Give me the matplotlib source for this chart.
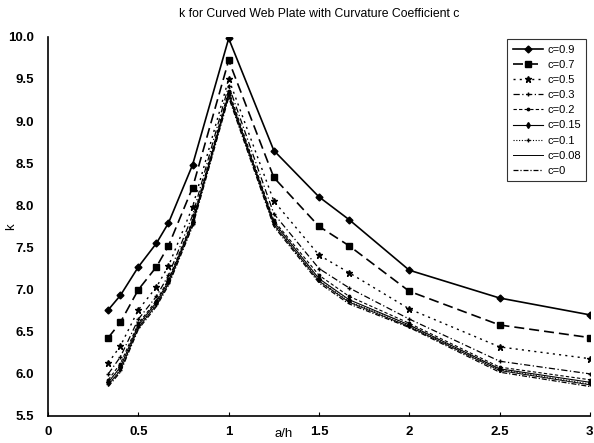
import matplotlib
matplotlib.use("Agg")
import matplotlib.pyplot as plt

plt.rcParams['font.family'] = ['Liberation Sans', 'DejaVu Sans']

a_h = [1/3, 0.4, 0.5, 0.6, 2/3, 0.8, 1.0, 1.25, 1.5, 5/3, 2.0, 2.5, 3.0]

labels = ["c=0.9", "c=0.7", "c=0.5", "c=0.3", "c=0.2", "c=0.15", "c=0.1", "c=0.08", "c=0"]

k_09 = [6.76, 6.93, 7.27, 7.55, 7.79, 8.48, 9.98, 8.65, 8.10, 7.83, 7.23, 6.90, 6.70]
k_07 = [6.43, 6.61, 7.00, 7.27, 7.52, 8.21, 9.72, 8.33, 7.75, 7.52, 6.98, 6.58, 6.43]
k_05 = [6.13, 6.33, 6.76, 7.03, 7.28, 7.98, 9.50, 8.05, 7.41, 7.20, 6.77, 6.32, 6.18]
k_03 = [6.00, 6.20, 6.65, 6.92, 7.17, 7.88, 9.42, 7.90, 7.25, 7.02, 6.65, 6.15, 6.00]
k_02 = [5.93, 6.12, 6.60, 6.87, 7.12, 7.82, 9.36, 7.82, 7.17, 6.92, 6.60, 6.08, 5.93]
k_015 = [5.90, 6.08, 6.58, 6.85, 7.10, 7.80, 9.33, 7.80, 7.13, 6.88, 6.58, 6.06, 5.90]
k_01 = [5.88, 6.05, 6.56, 6.83, 7.08, 7.78, 9.31, 7.78, 7.11, 6.86, 6.57, 6.05, 5.88]
k_008 = [5.87, 6.04, 6.55, 6.82, 7.07, 7.77, 9.30, 7.77, 7.10, 6.85, 6.56, 6.04, 5.87]
k_0 = [5.85, 6.02, 6.53, 6.80, 7.05, 7.75, 9.28, 7.75, 7.08, 6.83, 6.55, 6.02, 5.85]

series = [k_09, k_07, k_05, k_03, k_02, k_015, k_01, k_008, k_0]

styles = [
    dict(ls='-', lw=1.2, marker='D', ms=3.5),
    dict(ls=(0, (6, 3)), lw=1.2, marker='s', ms=4.5),
    dict(ls=(0, (1.5, 3)), lw=1.0, marker='*', ms=4.5),
    dict(ls=(0, (5, 2, 1, 2)), lw=0.9, marker='+', ms=3.5),
    dict(ls=(0, (3, 2)), lw=0.8, marker='.', ms=3.5),
    dict(ls='-', lw=0.8, marker='d', ms=3),
    dict(ls=(0, (1, 1.5)), lw=0.8, marker='+', ms=3),
    dict(ls='-', lw=0.7, marker=None),
    dict(ls=(0, (4, 1.5, 1, 1.5)), lw=0.9, marker=None),
]

fig = plt.figure(figsize=(5.94, 4.43), dpi=100)
ax = fig.add_axes([0.081, 0.061, 0.912, 0.856])

for ys, lab, st in zip(series, labels, styles):
    ax.plot(a_h, ys, color='black', label=lab, **st)

ax.set_xlim(0, 3)
ax.set_ylim(5.5, 10.0)
xt = [0, 0.5, 1, 1.5, 2, 2.5, 3]
ax.set_xticks(xt)
ax.set_xticklabels(['0', '0.5', '1', '1.5', '2', '2.5', '3'])
yt = [5.5 + 0.5 * i for i in range(10)]
ax.set_yticks(yt)
ax.set_yticklabels([f"{v:.1f}" for v in yt])

for s in ['top', 'right']:
    ax.spines[s].set_visible(False)
for s in ['left', 'bottom']:
    ax.spines[s].set_linewidth(1.2)

ax.tick_params(axis='x', direction='in', length=3, pad=7, labelsize=9.5)
ax.tick_params(axis='y', direction='in', length=0, pad=10, labelsize=9.5)
for t in ax.get_xticklabels() + ax.get_yticklabels():
    t.set_fontweight('bold')

ax.set_title("k for Curved Web Plate with Curvature Coefficient c", fontsize=8.8, pad=14)
ax.set_xlabel("a/h", fontsize=9.5)
ax.xaxis.set_label_coords(0.434, -0.032)
ax.set_ylabel("k", fontsize=9.5)
ax.yaxis.set_label_coords(-0.058, 0.5)

leg = ax.legend(loc='upper right', bbox_to_anchor=(1.004, 1.008), fontsize=8,
                frameon=True, fancybox=False, edgecolor='black', handlelength=2.7,
                labelspacing=0.46, borderpad=0.5, handletextpad=0.4)
leg.get_frame().set_linewidth(0.8)

fig.savefig("out.png", dpi=100)
